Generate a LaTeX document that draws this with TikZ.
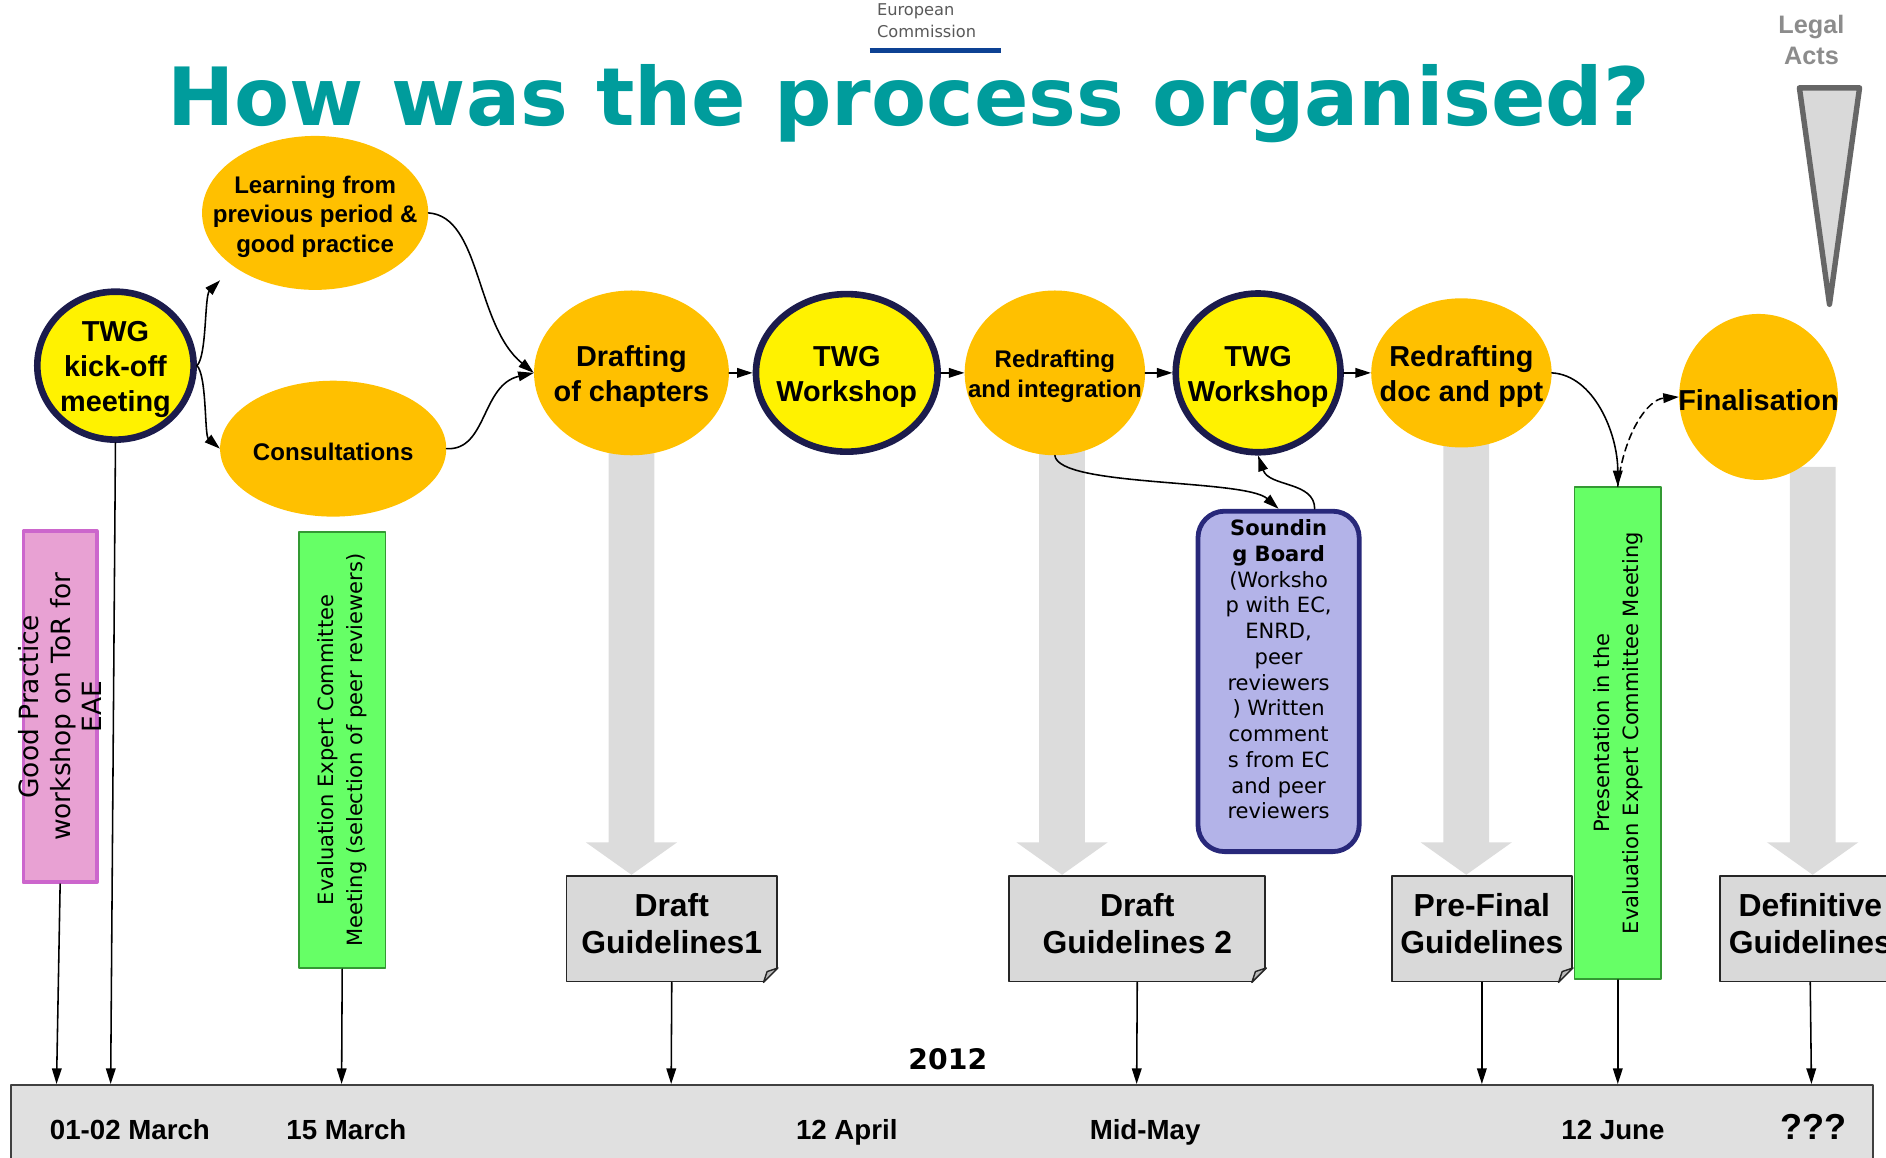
\documentclass[tikz,border=0pt]{standalone}
\usepackage{fontspec}
\setmainfont{Liberation Sans}
\newfontfamily\verdfont{DejaVu Sans}
\usetikzlibrary{shapes.geometric,arrows.meta,calc,backgrounds}
\newcommand\fsz[2]{\fontsize{#1}{#2}\selectfont}
\definecolor{teal0}{HTML}{009C9C}
\definecolor{amber}{HTML}{FFC000}
\definecolor{navy}{HTML}{1C1C4C}
\definecolor{lavfill}{HTML}{B3B3E8}
\definecolor{lavline}{HTML}{28287A}
\definecolor{pinkfill}{HTML}{E8A1D3}
\definecolor{pinkline}{HTML}{CC66CC}
\definecolor{grnfill}{HTML}{66FF66}
\definecolor{grnline}{HTML}{339933}
\definecolor{docgray}{HTML}{D9D9D9}
\definecolor{fatgray}{HTML}{DCDCDC}
\definecolor{barg}{HTML}{E0E0E0}
\definecolor{ecblue}{HTML}{0D4193}
\definecolor{legalg}{HTML}{8C8C8C}
\begin{document}
\begin{tikzpicture}[x=1pt,y=-1pt,line join=round,line cap=round,>={Triangle[length=13pt,width=8pt]},
	twg/.style={ellipse,draw=navy,line width=5.5pt,fill=yellow,inner sep=0pt},
	task/.style={ellipse,fill=amber,inner sep=0pt},
	big/.style={font=\bfseries\fsz{24}{29},align=center,yshift=-3pt},
	small/.style={font=\bfseries\fsz{20}{24.5},align=center,yshift=-3pt},
	doc/.style={rectangle,fill=docgray,draw=black!85,line width=1.5pt,inner sep=0pt,minimum height=88},
	doctext/.style={font=\bfseries\fsz{26.5}{31},align=center,yshift=4pt},
	vbox/.style={rectangle,fill=grnfill,draw=grnline,line width=1.5pt,inner sep=0pt,minimum width=72},
	rot/.style={rotate=90,align=center,font=\verdfont\fsz{17.5}{24}},
	link/.style={line width=1.3pt},
	fat/.style={fill=fatgray},
	date/.style={anchor=base,font=\bfseries\fsz{23}{26},inner sep=0pt}]
	\useasboundingbox (0,0) rectangle (1568,962);
	% header
	\node[anchor=west,align=left,font=\verdfont\fsz{13.5}{18},text=black!65,inner sep=0pt] (ec) at (729,17) {European\\Commission};
	\draw[ecblue,line width=4pt,line cap=butt] (723,42) -- (832,42);
	\node[anchor=base,font=\verdfont\bfseries\fsz{66.8}{70},text=teal0,inner sep=0pt] (ttl) at (755.5,104.6) {How was the process organised?};
	\node[align=center,font=\bfseries\fsz{21}{26},text=legalg,inner sep=0pt] (legal) at (1506,33) {Legal\\Acts};
	\filldraw[fill=docgray,draw=black!60,line width=4.5pt] (1496,73) -- (1546,73) -- (1521,253) -- cycle;
	% process
	\node[twg,minimum width=130,minimum height=123,label={[big,name=kick-t]center:TWG\\kick-off\\meeting}] (kick) at (96,304) {};
	\node[task,minimum width=188,minimum height=128,label={[small,name=learn-t]center:Learning from\\previous period \&\\good practice}] (learn) at (262,177) {};
	\node[task,minimum width=188,minimum height=113,label={[small,name=cons-t]center:Consultations}] (cons) at (277,373) {};
	\node[task,minimum width=162,minimum height=137,label={[big,name=drf-t]center:Drafting\\of chapters}] (drf) at (525,310) {};
	\node[twg,minimum width=151,minimum height=131,label={[big,name=tw1-t]center:TWG\\Workshop}] (tw1) at (704,310) {};
	\node[task,minimum width=150,minimum height=137,label={[small,name=rdi-t]center:Redrafting\\and integration}] (rdi) at (877,310) {};
	\node[twg,minimum width=137,minimum height=132,label={[big,name=tw2-t]center:TWG\\Workshop}] (tw2) at (1046,310) {};
	\node[task,minimum width=150,minimum height=124,label={[big,name=rdp-t]center:Redrafting\\doc and ppt}] (rdp) at (1215,310) {};
	\node[task,minimum width=132,minimum height=138,label={[big,name=fin-t]center:Finalisation}] (fin) at (1462,330) {};
	% side boxes
	\node[rectangle,fill=pinkfill,draw=pinkline,line width=3pt,inner sep=0pt,minimum width=61,minimum height=292,
		label={[rot,font=\verdfont\fsz{22}{26},name=gpw-t]center:Good Practice\\workshop on ToR for\\EAE}] (gpw) at (50,587.5) {};
	\node[vbox,minimum height=363,label={[rot,name=eec-t]center:Evaluation Expert Committee\\Meeting (selection of peer reviewers)}] (eec) at (284.5,623.5) {};
	\node[vbox,minimum height=409,label={[rot,name=pec-t]center:Presentation in the\\Evaluation Expert Committee Meeting}] (pec) at (1345,609.5) {};
	\node[rectangle,rounded corners=22pt,fill=lavfill,draw=lavline,line width=4pt,inner sep=0pt,minimum width=134,minimum height=283,
		label={[align=center,font=\verdfont\fsz{17.5}{21.4},yshift=10pt,name=sb-t]center:\textbf{Soundin}\\\textbf{g Board}\\(Worksho\\p with EC,\\ENRD,\\peer\\reviewers\\) Written\\comment\\s from EC\\and peer\\reviewers}] (sb) at (1063,566.5) {};
	% documents
	\node[doc,minimum width=175,label={[doctext,name=dg1-t]center:Draft\\Guidelines1}] (dg1) at (558.5,772) {};
	\node[doc,minimum width=213,label={[doctext,name=dg2-t]center:Draft\\Guidelines 2}] (dg2) at (945.5,772) {};
	\node[doc,minimum width=150,label={[doctext,name=pfg-t]center:Pre-Final\\Guidelines}] (pfg) at (1232,772) {};
	\node[doc,minimum width=150,label={[doctext,name=dfg-t]center:Definitive\\Guidelines}] (dfg) at (1505,772) {};
	\foreach \d in {dg1,dg2,pfg,dfg}{
		\fill[white] ($(\d.south east)+(-12,0)$) -- (\d.south east) -- ($(\d.south east)+(0,-12)$) -- cycle;
		\filldraw[fill=gray!55,draw=black!85,line width=1.2pt] ($(\d.south east)+(-12,0)$) -- ($(\d.south east)+(0,-12)$) -- ($(\d.south east)+(-9,-9)$) -- cycle;
	};
	% big arrows
	\begin{scope}[on background layer]
		\foreach \a/\b/\x/\u in {drf/dg1/525/40,rdi/dg2/883/40,rdp/pfg/1219/40,fin/dfg/1507/11}{
			\path (\x,0 |- \a.south) coordinate (top) (\x,0 |- \b.north) coordinate (tip);
			\fill[fat] ($(top)+(-19,-\u)$) -- ($(tip)+(-19,-27)$) -- ($(tip)+(-38,-27)$) -- (tip)
				-- ($(tip)+(38,-27)$) -- ($(tip)+(19,-27)$) -- ($(top)+(19,-\u)$) -- cycle;
		};
	\end{scope}
	% connectors
	\coordinate (lrn-in) at (183,233);
	\draw[link,->] (kick.east) .. controls (172,296) and (170,246) .. (lrn-in);
	\draw[link,->] (kick.east) .. controls (172,312) and (170,362) .. (cons.west);
	\draw[link,->] (learn.east) .. controls (400,180) and (395,270) .. (drf.west);
	\draw[link,->] (cons.east) .. controls (405,375) and (400,320) .. (drf.west);
	\foreach \a/\b in {drf/tw1,tw1/rdi,rdi/tw2,tw2/rdp}
		\draw[link,->] (\a) -- (\b);
	\draw[link,->] (rdp.east) .. controls (1325,312) and (1345,360) .. (pec.north);
	\draw[link,->,dash pattern=on 6pt off 4pt] (pec.north) .. controls (1350,360) and (1370,332) .. (fin.west);
	\draw[link,->] (rdi.south) .. controls (880,405) and (1035,398) .. (sb.north);
	\draw[link,->] ($(sb.north)+(30,0)$) .. controls (1093,400) and (1055,405) .. (tw2.south);
	% timeline
	\node[rectangle,fill=barg,draw=black!75,line width=1.5pt,minimum width=1548,minimum height=76,inner sep=0pt] (bar) at (783,940) {};
	\node[anchor=base,font=\verdfont\bfseries\fsz{23.5}{26},inner sep=0pt] (year) at (788,889) {2012};
	\foreach \x/\t/\n in {108/01-02 March/d1,288/15 March/d2,704/12 April/d3,952/Mid-May/d4,1341/12 June/d5}
		\node[date] (\n) at (\x,947) {\t};
	\node[date,font=\bfseries\fsz{30}{32}] (d6) at (1508,947) {???};
	\foreach \n/\x in {gpw/47,kick/92,eec/284,dg1/558,dg2/945,pfg/1232,pec/1345,dfg/1506}{
		\coordinate (t-\n) at (\x,0 |- bar.north);
		\draw[link,->] (\n.south) -- (t-\n);
	};
\end{tikzpicture}
\end{document}
